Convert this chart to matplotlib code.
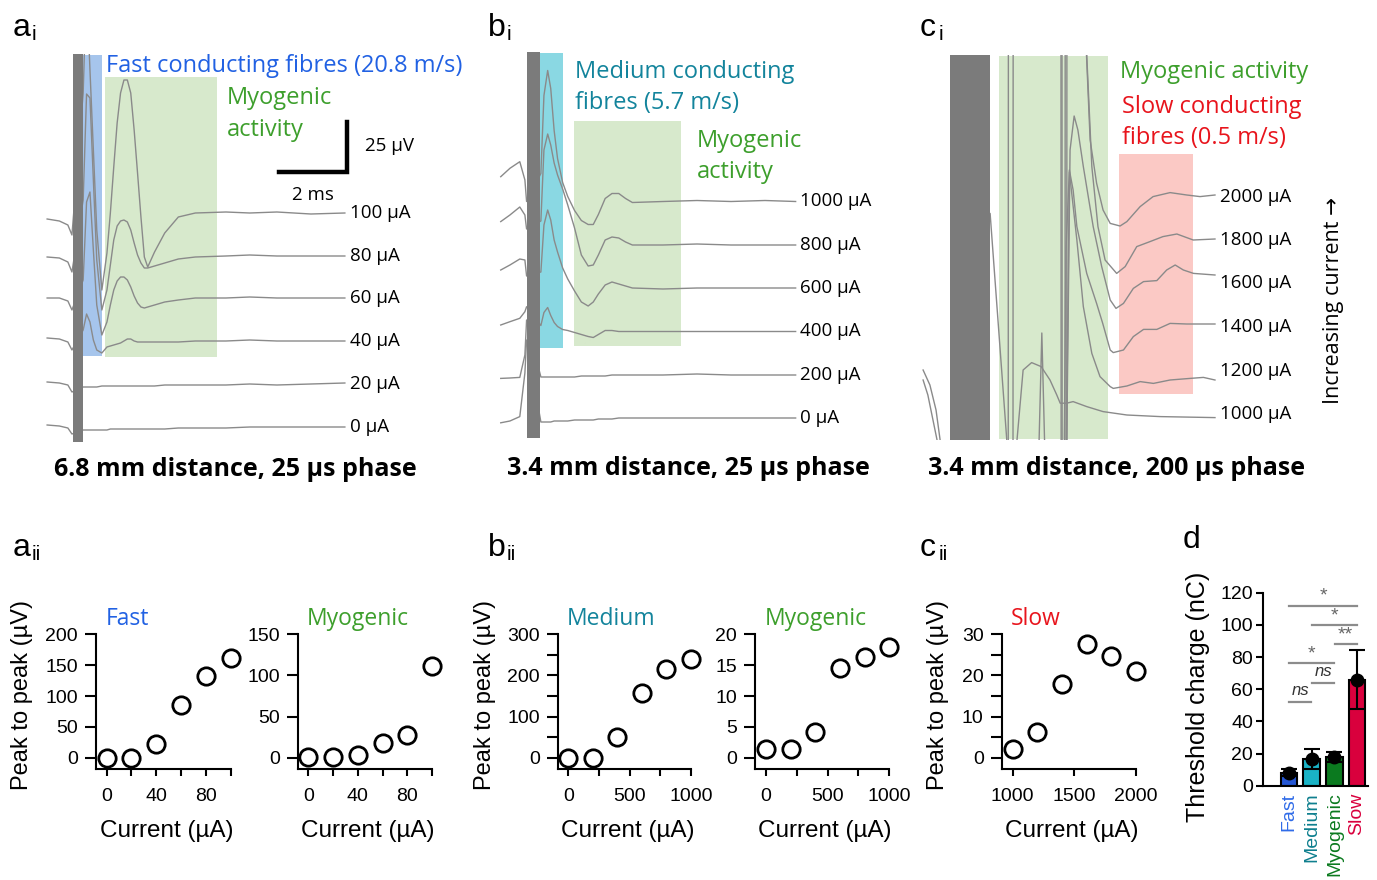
import numpy as np
import matplotlib
matplotlib.use("Agg")
import matplotlib.pyplot as plt
from matplotlib.patches import Rectangle

plt.rcParams['font.family'] = ['Liberation Sans', 'DejaVu Sans']

W, H = 1377, 880
ANNOT = ['Open Sans', 'DejaVu Sans']

TRACE = '#8a8a8a'
STIM = '#7b7b7b'
FAST_C = '#2161e3'
MED_C = '#13849c'
MYO_C = '#3d9f2c'
SLOW_C = '#e8141c'

# ---------------- recordings (time in ms, voltage in uV rel. to baseline)
a_currents = [100, 80, 60, 40, 20, 0]
a_offsets = [116, 94.5, 73.5, 52, 30.5, 9]
a_pre_t = [-0.76, -0.4, -0.15, -0.03]
a_pre_v = [[-3, -4, -6, -11], [-0.5, -1, -3, -8], [0, 0, -1.5, -6],
           [1.5, 1, -0.5, -4.5], [1, 0.5, -0.5, -4], [1, 0.5, -0.5, -3.5]]
a_post_t = [0.3, 0.4, 0.5, 0.6, 0.7, 0.85, 1.0, 1.1, 1.2, 1.3, 1.4, 1.5, 1.6, 1.7,
            1.8, 1.9, 2.0, 2.1, 2.2, 2.4, 2.7, 3.1, 3.6, 4.5, 5.2, 6.0, 7.0, 8.0]
a_post_v = [
    [60, 115, 71.5, 31.5, -8.5, -38.5, -20, 0, 23, 45, 60, 66.5, 66.5, 60, 41.5,
     20, -2, -22, -27, -19.5, -10, -2, 0, 0.5, 0, 0.5, -0.5, 0],
    [28, 81, 79, 38, -2, -27, -17, -4.5, 8, 15, 17.5, 18, 17, 13, 6.5, 0.5, -3.5,
     -6, -6, -5, -3.5, -1.5, -0.5, 0, 0.5, 0, 0, 0],
    [9, 48, 53, 24, -3.5, -18.5, -12, -3.5, 4, 8.5, 10.5, 10.5, 9, 5.5, 1, -2.5,
     -4.5, -5, -4.5, -3.5, -2, -1, 0, 0, 0.5, 0, 0, 0],
    [5.5, 13.5, 9.5, 0.5, -4.5, -6, -3, -2.5, -2, -1.5, -1, 0, 1, 1, 0, -0.5, -0.5,
     -0.5, -0.5, -0.5, -0.5, -0.5, 0, 0, 0.5, 0, 0, 0],
    [-1.5, -1.5, -1.5, -1.5, -1.5, -1, -1, -1, -1, -1, -1, -1, -1, -1, -1, -1, -1,
     -1, -1, -1, -0.5, -0.5, -0.5, -0.5, 0, -0.5, 0, 0.5],
    [-1.5, -1.5, -1.5, -1.5, -1.5, -1.5, -1.5, -1, -1, -1, -1, -1, -1, -1, -1, -1,
     -1, -1, -1, -1, -1, -0.5, -0.5, -0.5, 0, 0, 0, 0],
]

b_currents = [1000, 800, 600, 400, 200, 0]
b_offsets = [119.75, 98, 76.5, 54.75, 33, 11.5]
b_pre_t = [-0.77, -0.5, -0.21, -0.06, -0.01]
b_pre_v = [[12.4, 16.6, 19.9, 10.8, 0], [11.7, 15, 19, 15, 8], [9, 11.5, 14.5, 14, 6],
           [3.25, 4.9, 6.6, 9.9, 12.4], [-1.7, -1.5, -1.2, 10, 27.5],
           [-2.4, -1.5, 0.7, 22.5, 39]]
b_post_t = [0.41, 0.5, 0.61, 0.7, 0.8, 0.9, 1.05, 1.2, 1.4, 1.6, 1.8, 1.95, 2.1,
            2.3, 2.5, 2.7, 2.9, 3.1, 4.0, 5.0, 6.0, 7.0, 7.9]
b_post_v = [
    [14, 53, 65.5, 56.5, 35.5, 21.5, 9.5, 2.5, -4.5, -9.5, -11.5, -11.5, -6.5, 1.5,
     4, 4, 1.5, -0.5, 0, 0.5, 0, 0.5, 0],
    [12, 47.5, 55.5, 50, 41, 35, 28, 20, 8.5, -5, -10.5, -10, -5, 2.5, 4, 3.5, 1.5,
     0, 0, 0.5, 0, 0, 0],
    [8, 31.5, 39, 34, 24, 18, 10, 4.5, -1.5, -7, -9, -7, -3, 1.5, 3, 2, 1, 0, -0.5,
     0, 0, 0, 0],
    [3, 9.5, 12, 8, 4.5, 2.5, 1, 0.5, -0.5, -1.5, -2.5, -3, -1.5, 0.5, 0.5, 0, 0, 0,
     0, 0, 0, 0, 0],
    [-1, -1, -1, -1, -1, -1, -1, -1, -1, -0.5, -0.5, -0.5, -0.5, -0.5, 0, 0, 0, 0, 0,
     0.5, 0, 0, 0],
    [-2, -2, -2, -2, -1.5, -1.5, -1.5, -1.5, -1, -1, -1, -1, -0.5, -0.5, -0.5, 0, 0,
     0, 0, 0, 0, 0, 0],
]

c_currents = [2000, 1800, 1600, 1400, 1200, 1000]
c_offsets = [121.5, 100, 78.5, 56.5, 34.5, 13]
c_t = [
    [1.21, 1.71, 1.72, 3.26, 3.27, 3.38, 3.39, 3.94, 4.12, 4.31, 4.5, 4.71, 5.0, 5.2,
     5.59, 5.97, 6.47, 6.96, 7.35, 7.79],
    [1.21, 1.85, 1.86, 3.29, 3.30, 3.43, 3.44, 4.0, 4.17, 4.35, 4.56, 4.9, 5.15, 5.49,
     5.88, 6.26, 6.67, 7.15, 7.79],
    [1.21, 3.32, 3.53, 3.65, 3.76, 3.92, 4.21, 4.46, 4.71, 4.88, 5.1, 5.39, 5.69,
     6.08, 6.37, 6.62, 6.86, 7.16, 7.79],
    [1.21, 3.26, 3.41, 3.51, 3.62, 3.73, 4.02, 4.31, 4.49, 4.71, 4.80, 5.1, 5.39,
     5.69, 6.08, 6.47, 6.96, 7.79],
    [-0.79, -0.59, -0.41, -0.29, -0.21, 1.18, 1.67, 1.76, 2.55, 2.62, 2.70, 2.78,
     2.85, 3.29, 3.51, 3.73, 3.92, 4.17, 4.41, 4.71, 4.80, 5.2, 5.59, 5.98, 6.47,
     7.06, 7.45, 7.79],
    [-0.79, -0.65, -0.5, -0.38, -0.29, 1.21, 1.85, 1.97, 2.15, 2.40, 2.68, 2.94,
     3.14, 3.24, 3.43, 3.62, 4.02, 4.50, 5.2, 6.18, 7.79],
]
c_v = [
    [-250, -250, 250, 250, -250, -250, 250, 100, 28.5, 6.9, -6.5, -13.2, -14.5,
     -12.3, -4.8, 0.2, 2.2, 1, 0.2, 1],
    [-250, -250, 250, 250, -250, -250, 250, 100, 36.7, 6.7, -10, -16.7, -13.3, -3.3,
     -0.8, 1.7, 3, 0, 0.5],
    [-250, -250, 66.5, 83.5, 76.5, 58.2, 28.2, 8.2, -8.5, -12.7, -10.2, -2.7, 0.7,
     1.2, 6.5, 9, 6.5, 4.8, 4],
    [-250, -250, 38.5, 78.5, 68.5, 50.2, 26.8, 11.8, 1.8, -11.5, -12.8, -11.5, -4.8,
     -1.2, -1.2, 1.8, 1.5, 1.5],
    [0.5, -7, -19.5, -34.5, -60, 78.8, -34.5, -250, -250, -34.5, 19, -34.5, -250,
     -250, 99.5, 65.5, 32.2, 8.8, -2.8, -7.8, -8.7, -7.5, -5.3, -6.2, -4.5, -3.7,
     -3.2, -4.5],
    [17, 9.5, -3, -13, -40, -250, -250, -13, 22, 25.7, 23.7, 17, 9.5, 5.4, 5.4, 6.2,
     3.7, 1.2, -0.5, -1.3, -1.8],
]

# ---------------- recruitment curves
fast_x = [0, 20, 40, 60, 80, 100]
fast_y = [0, 0, 22, 85, 132, 161]
myo_a_y = [1, 1, 3.5, 18, 28, 111]
med_x = [0, 200, 400, 600, 800, 1000]
med_y = [0, 0, 51, 157, 215, 239]
myo_b_y = [1.4, 1.4, 4.1, 14.6, 16.4, 18]
slow_x = [1000, 1200, 1400, 1600, 1800, 2000]
slow_y = [2, 6.3, 18, 27.6, 24.7, 21.1]

# ---------------- threshold charge
groups = ['Fast', 'Medium', 'Myogenic', 'Slow']
charge_mean = [8, 16.5, 17.8, 66]
charge_sd = [2.2, 6.2, 3, 18.6]
group_fill = ['#2456d3', '#1ab3c6', '#0b7a1f', '#d9003d']
group_text = ['#2f6be8', '#0e7f8e', '#0b7a1f', '#d9003d']
sig_pairs = [(0, 3, 112, '*'), (1, 3, 100, '*'), (2, 3, 88, '**'),
             (0, 2, 76, '*'), (1, 2, 64, 'ns'), (0, 1, 52, 'ns')]

fig = plt.figure(figsize=(W / 100, H / 100), dpi=100)


def px_ax(x0, y0, x1, y1):
    return fig.add_axes([x0 / W, 1 - y1 / H, (x1 - x0) / W, (y1 - y0) / H])


def ftext(x, y, s, **kw):
    return fig.text(x / W, 1 - y / H, s, **kw)


def trace_panel(rect, xlim, ylim, offsets, pre_t, pre_v, post_t, post_v, stim_end):
    ax = px_ax(*rect)
    ax.set_xlim(xlim)
    ax.set_ylim(ylim)
    ax.axis('off')
    for k, off in enumerate(offsets):
        t = list(pre_t) + list(post_t)
        v = np.array(list(pre_v[k]) + list(post_v[k])) + off
        ax.plot(t, v, color=TRACE, lw=1.0, zorder=3)
    ax.add_patch(Rectangle((0, 1.5), stim_end, 300, color=STIM, zorder=5, lw=0))
    return ax


def labels(ax, x, offsets, currents):
    for off, c in zip(offsets, currents):
        ax.text(x, off, f'{c} µA', fontsize=13.5, va='center', ha='left',
                family=ANNOT)


AN = 17

# a_i
ax = trace_panel((40, 54, 352, 445), (-0.97, 8.21), (0, 195.5), a_offsets,
                 a_pre_t, a_pre_v, a_post_t, a_post_v, 0.29)
ax.add_patch(Rectangle((0.29, 44.5), 0.56, 150.5, color='#a6c5ec', lw=0, zorder=1))
ax.add_patch(Rectangle((0.94, 44), 3.3, 140, color='#d7e9cc', lw=0, zorder=1))
ax.text(0.97, 189.5, 'Fast conducting fibres (20.8 m/s)', color=FAST_C,
        fontsize=AN, va='center', family=ANNOT)
ax.text(4.53, 173.5, 'Myogenic', color=MYO_C, fontsize=AN, va='center', family=ANNOT)
ax.text(4.53, 157.5, 'activity', color=MYO_C, fontsize=AN, va='center', family=ANNOT)
bar_ms, bar_uv = 2, 25
x0, y0 = 8.06, 136.5
ax.plot([x0 - bar_ms, x0, x0], [y0, y0, y0 + bar_uv], color='k', lw=3.2,
        solid_joinstyle='miter', clip_on=False)
ax.text(8.59, y0 + 13, f'{bar_uv} µV', fontsize=13.5, va='center', family=ANNOT)
ax.text(x0 - 1, y0 - 11.5, f'{bar_ms} ms', fontsize=13.5, va='center', ha='center',
        family=ANNOT)
labels(ax, 8.15, a_offsets, a_currents)

# b_i
ax = trace_panel((497, 52, 797, 441), (-0.88, 7.94), (0, 194.5), b_offsets,
                 b_pre_t, b_pre_v, b_post_t, b_post_v, 0.38)
ax.add_patch(Rectangle((0.38, 46.5), 0.68, 147.5, color='#8ad8e3', lw=0, zorder=1))
ax.add_patch(Rectangle((1.38, 47.5), 3.15, 112.5, color='#d7e9cc', lw=0, zorder=1))
ax.text(1.41, 184.5, 'Medium conducting', color=MED_C, fontsize=AN, va='center',
        family=ANNOT)
ax.text(1.41, 169, 'fibres (5.7 m/s)', color=MED_C, fontsize=AN, va='center',
        family=ANNOT)
ax.text(5.0, 150, 'Myogenic', color=MYO_C, fontsize=AN, va='center', family=ANNOT)
ax.text(5.0, 134.5, 'activity', color=MYO_C, fontsize=AN, va='center', family=ANNOT)
labels(ax, 8.03, b_offsets, b_currents)

# c_i
ax = px_ax(918, 55, 1216, 440)
ax.set_xlim(-0.94, 7.82)
ax.set_ylim(0, 192.5)
ax.axis('off')
ax.add_patch(Rectangle((1.44, 0.5), 3.21, 191.5, color='#d7e9cc', lw=0, zorder=1))
ax.add_patch(Rectangle((4.97, 23), 2.18, 120, color='#fbc9c5', lw=0, zorder=1))
for off, t, v in zip(c_offsets, c_t, c_v):
    ax.plot(t, np.array(v) + off, color=TRACE, lw=1.0, zorder=3)
ax.add_patch(Rectangle((0, 0), 1.18, 192.5, color=STIM, lw=0, zorder=5))
ax.text(5.0, 184, 'Myogenic activity', color=MYO_C, fontsize=AN, va='center',
        family=ANNOT)
ax.text(5.06, 166.5, 'Slow conducting', color=SLOW_C, fontsize=AN, va='center',
        family=ANNOT)
ax.text(5.06, 151, 'fibres (0.5 m/s)', color=SLOW_C, fontsize=AN, va='center',
        family=ANNOT)
labels(ax, 7.94, c_offsets, c_currents)
ftext(1333, 300, 'Increasing current →', rotation=90, fontsize=15.5, ha='center',
      va='center', family=ANNOT)

# captions
cap_kw = dict(fontsize=18, fontweight='bold', ha='center', va='center',
              family=['Open Sans', 'DejaVu Sans'])
ftext(235, 469, '6.8 mm distance, 25 µs phase', **cap_kw)
ftext(688, 468, '3.4 mm distance, 25 µs phase', **cap_kw)
ftext(1117, 468, '3.4 mm distance, 200 µs phase', **cap_kw)


# panel letters
def letter(x, y, main, sub):
    fam = ['Liberation Sans Narrow', 'Liberation Sans']
    ftext(x, y, main, fontsize=23, va='baseline', family=fam)
    if sub:
        ftext(x + 19, y + 4, sub, fontsize=15, va='baseline', family=fam)


letter(13, 36, 'a', 'i')
letter(488, 36, 'b', 'i')
letter(920, 36, 'c', 'i')
letter(13, 556, 'a', 'ii')
letter(488, 556, 'b', 'ii')
letter(920, 556, 'c', 'ii')
letter(1183, 548, 'd', '')


# recruitment scatter panels
def scatter_panel(rect, x, y, xlim, ylim, yticks, ylabs, xticks, xlabs, title, color):
    ax = px_ax(*rect)
    ax.plot(x, y, 'o', ms=12.5, mfc='none', mec='k', mew=2.0, clip_on=False,
            zorder=4)
    ax.set_xlim(xlim)
    ax.set_ylim(ylim)
    for s in ['top', 'right']:
        ax.spines[s].set_visible(False)
    for s in ['left', 'bottom']:
        ax.spines[s].set_linewidth(1.5)
    ax.set_yticks(yticks, ylabs)
    ax.set_xticks(xticks, xlabs)
    ax.tick_params(axis='y', length=8, width=1.5, labelsize=14, pad=5)
    ax.tick_params(axis='x', length=5, width=1.5, labelsize=14, pad=9)
    ax.text(0.07, 1.11, title, transform=ax.transAxes, color=color, fontsize=16.5,
            va='center', family=ANNOT)
    cx = (rect[0] + rect[2]) / 2
    ftext(cx + 3, 831, 'Current (µA)', fontsize=17.5, ha='center', va='center')
    return ax


def lab(vals, keep):
    return [str(v) if v in keep else '' for v in vals]


scatter_panel((96, 634.3, 230.7, 769), fast_x, fast_y, (-8.6, 100), (-18.3, 200),
              [0, 50, 100, 150, 200], ['0', '50', '100', '150', '200'],
              fast_x, lab(fast_x, [0, 40, 80]), 'Fast', FAST_C)
scatter_panel((297.7, 634.3, 432.3, 769), fast_x, myo_a_y, (-8.5, 100), (-13.7, 150),
              [0, 50, 100, 150], ['0', '50', '100', '150'],
              fast_x, lab(fast_x, [0, 40, 80]), 'Myogenic', MYO_C)
t250 = [0, 250, 500, 750, 1000]
scatter_panel((557.7, 634.3, 691, 769), med_x, med_y, (-86, 1000), (-27.5, 300),
              list(range(0, 301, 50)), lab(list(range(0, 301, 50)), [0, 100, 200, 300]),
              t250, lab(t250, [0, 500, 1000]), 'Medium', MED_C)
scatter_panel((755, 634.3, 889.3, 769), med_x, myo_b_y, (-89, 1000), (-1.83, 20),
              [0, 5, 10, 15, 20], ['0', '5', '10', '15', '20'],
              t250, lab(t250, [0, 500, 1000]), 'Myogenic', MYO_C)
scatter_panel((1001.7, 634.3, 1136, 769), slow_x, slow_y, (911, 2000), (-2.75, 30),
              list(range(0, 31, 5)), lab(list(range(0, 31, 5)), [0, 10, 20, 30]),
              [1000, 1500, 2000], ['1000', '1500', '2000'], 'Slow', SLOW_C)
for x in (22, 485, 938):
    ftext(x, 695, 'Peak to peak (µV)', rotation=90, fontsize=17, ha='center',
          va='center')

# d
ax = px_ax(1262.7, 592.7, 1368, 785.7)
pos = np.arange(len(groups))
ax.bar(pos, charge_mean, width=0.73, color=group_fill, edgecolor='k', lw=1.5,
       zorder=2)
ax.errorbar(pos, charge_mean, yerr=charge_sd, fmt='none', ecolor='k', elinewidth=1.5,
            capsize=5.5, capthick=1.5, zorder=3)
ax.plot(pos, charge_mean, 'o', color='k', ms=9, zorder=4)
ax.set_xlim(-1.16, 3.48)
ax.set_ylim(0, 120)
for s in ['top', 'right']:
    ax.spines[s].set_visible(False)
for s in ['left', 'bottom']:
    ax.spines[s].set_linewidth(1.5)
ax.set_yticks(range(0, 121, 20))
ax.tick_params(axis='y', length=5, width=1.5, labelsize=14, pad=2)
ax.set_xticks(pos, groups, rotation=90, fontsize=14)
ax.tick_params(axis='x', length=0, pad=5)
for lbl, c in zip(ax.get_xticklabels(), group_text):
    lbl.set_color(c)
for i, j, y, s in sig_pairs:
    ax.plot([i + 0.02, j - 0.02], [y, y], color='#8c8c8c', lw=1.6, clip_on=False)
    if s == 'ns':
        ax.text((i + j) / 2, y + 2.5, s, ha='center', va='bottom', fontsize=12,
                style='italic', color='#333333')
    else:
        ax.text((i + j) / 2, y + 0.5, s, ha='center', va='bottom', fontsize=14,
                color='#666666')
ftext(1198, 697, 'Threshold charge (nC)', rotation=90, fontsize=18, ha='center',
      va='center')

fig.savefig('out.png', dpi=100)
